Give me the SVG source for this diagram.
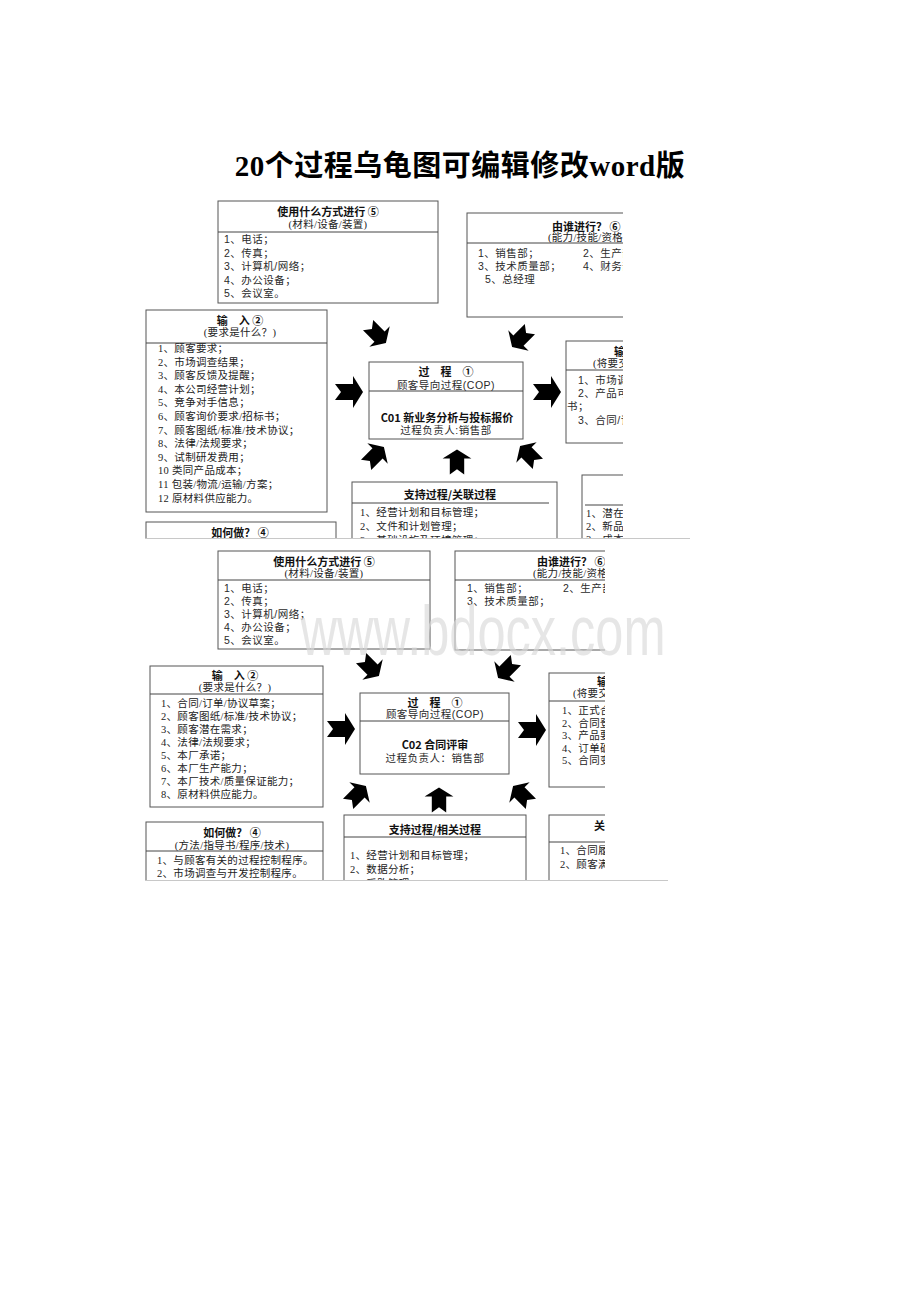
<svg xmlns="http://www.w3.org/2000/svg" width="920" height="1302" viewBox="0 0 920 1302">
<style>
.box{fill:#fff;stroke:#555;stroke-width:1}
.div{stroke:#444;stroke-width:1}
.h{font-family:"Noto Sans CJK SC","Liberation Sans",sans-serif;font-weight:bold;font-size:11px;fill:#111}
.s{font-family:"Liberation Serif","Noto Sans CJK SC",serif;font-size:10.5px;letter-spacing:0.3px;fill:#222}
.t{font-family:"Liberation Sans","Noto Sans CJK SC",sans-serif;font-size:10.5px;letter-spacing:0.5px;fill:#2a2a2a}
.c{text-anchor:middle}
.arr{fill:#000}
.edge{stroke:#c8c8c8;stroke-width:1}
</style>
<defs>
<path id="ar" d="M-14,-8 L4,-8 L4,-16 L14,0 L4,16 L4,8 L-14,8 L-8,0 Z"/>
<clipPath id="cp1"><rect x="140" y="195" width="483" height="343"/></clipPath>
<clipPath id="cp2"><rect x="140" y="545" width="465" height="335"/></clipPath>
</defs>
<rect width="920" height="1302" fill="#fff"/>
<text x="460" y="176" text-anchor="middle" font-family="Liberation Serif,Noto Sans CJK SC,serif" font-weight="bold" font-size="29" letter-spacing="0.5" fill="#000">20个过程乌龟图可编辑修改word版</text>

<g clip-path="url(#cp1)">
<g id="p1-means">
<rect class="box" x="218" y="201" width="220" height="102"/>
<line class="div" x1="218" y1="232" x2="438" y2="232"/>
<text class="h c" x="328" y="216">使用什么方式进行 ⑤</text>
<text class="s c" x="328" y="228">(材料/设备/装置)</text>
<text class="t" x="224" y="243">1、电话；</text>
<text class="t" x="224" y="256.5">2、传真；</text>
<text class="t" x="224" y="270">3、计算机/网络；</text>
<text class="t" x="224" y="283.5">4、办公设备；</text>
<text class="t" x="224" y="297">5、会议室。</text>
</g>
<g id="p1-who">
<rect class="box" x="467" y="213" width="200" height="104"/>
<line class="div" x1="467" y1="243" x2="667" y2="243"/>
<text class="h" x="552" y="231">由谁进行？ ⑥</text>
<text class="s" x="548" y="241">(能力/技能/资格要求)</text>
<text class="t" x="478" y="257">1、销售部；</text>
<text class="t" x="583" y="257">2、生产部；</text>
<text class="t" x="478" y="270">3、技术质量部；</text>
<text class="t" x="583" y="270">4、财务部；</text>
<text class="t" x="485" y="283">5、总经理</text>
</g>
<g id="p1-input">
<rect class="box" x="146" y="310" width="181" height="202"/>
<line class="div" x1="146" y1="343" x2="327" y2="343"/>
<text class="h c" x="240" y="325">输　入 ②</text>
<text class="s c" x="240" y="336">(要求是什么？)</text>
<text class="s" x="158" y="352">1、顾客要求；</text>
<text class="s" x="158" y="365.6">2、市场调查结果；</text>
<text class="s" x="158" y="379.2">3、顾客反馈及提醒；</text>
<text class="s" x="158" y="392.8">4、本公司经营计划；</text>
<text class="s" x="158" y="406.4">5、竞争对手信息；</text>
<text class="s" x="158" y="420">6、顾客询价要求/招标书；</text>
<text class="s" x="158" y="433.6">7、顾客图纸/标准/技术协议；</text>
<text class="s" x="158" y="447.2">8、法律/法规要求；</text>
<text class="s" x="158" y="460.8">9、试制研发费用；</text>
<text class="s" x="158" y="474.4">10 类同产品成本；</text>
<text class="s" x="158" y="488">11 包装/物流/运输/方案；</text>
<text class="s" x="158" y="501.6">12 原材料供应能力。</text>
</g>
<g id="p1-process">
<rect class="box" x="369" y="362" width="154" height="77"/>
<line class="div" x1="369" y1="391" x2="523" y2="391"/>
<text class="h c" x="446" y="376">过　程　①</text>
<text class="t c" x="446" y="389">顾客导向过程(COP)</text>
<text class="h c" x="447" y="422" font-size="11.5">C01  新业务分析与投标报价</text>
<text class="t c" x="446" y="434">过程负责人:销售部</text>
</g>
<g id="p1-output">
<rect class="box" x="566" y="341" width="120" height="102"/>
<line class="div" x1="566" y1="370" x2="686" y2="370"/>
<text class="h" x="614" y="356">输　出 ③</text>
<text class="s" x="593" y="367">(将要交付什么？)</text>
<text class="t" x="578" y="384">1、市场调查报告；</text>
<text class="t" x="578" y="397">2、产品可行性报告</text>
<text class="t" x="567" y="410">书；</text>
<text class="t" x="578" y="424">3、合同/订单。</text>
</g>
<g id="p1-support">
<rect class="box" x="352" y="482" width="205" height="80"/>
<line class="div" x1="352" y1="503" x2="549" y2="503"/>
<text class="h c" x="450" y="499">支持过程/关联过程</text>
<text class="s" x="360" y="516">1、经营计划和目标管理；</text>
<text class="s" x="360" y="530">2、文件和计划管理；</text>
<text class="s" x="360" y="544">3、基础设施及环境管理；</text>
</g>
<g id="p1-kpi">
<rect class="box" x="582" y="475" width="120" height="80"/>
<line class="div" x1="585" y1="505" x2="702" y2="505"/>
<text class="s" x="586" y="517">1、潜在客户数；</text>
<text class="s" x="586" y="530">2、新品开发数；</text>
<text class="s" x="586" y="543">3、成本</text>
</g>
<g id="p1-how">
<rect class="box" x="146" y="522" width="190" height="60"/>
<text class="h c" x="240" y="537">如何做？ ④</text>
</g>
<g id="p1-connectors">
<use href="#ar" class="arr" transform="translate(377,334) rotate(45) scale(0.9)"/>
<use href="#ar" class="arr" transform="translate(521,338) rotate(135) scale(0.9)"/>
<use href="#ar" class="arr" transform="translate(349,392)"/>
<use href="#ar" class="arr" transform="translate(547,392)"/>
<use href="#ar" class="arr" transform="translate(375,456) rotate(-45) scale(0.9)"/>
<use href="#ar" class="arr" transform="translate(457,462) rotate(-90) scale(0.9)"/>
<use href="#ar" class="arr" transform="translate(529,455) rotate(-135) scale(0.9)"/>
</g>
</g>
<line class="edge" x1="145" y1="538.5" x2="690" y2="538.5"/>

<g clip-path="url(#cp2)">
<g id="p2-means">
<rect class="box" x="218" y="551" width="212" height="98"/>
<line class="div" x1="218" y1="580" x2="430" y2="580"/>
<text class="h c" x="324" y="566">使用什么方式进行 ⑤</text>
<text class="s c" x="324" y="577">(材料/设备/装置)</text>
<text class="t" x="224" y="592">1、电话；</text>
<text class="t" x="224" y="605">2、传真；</text>
<text class="t" x="224" y="618">3、计算机/网络；</text>
<text class="t" x="224" y="631">4、办公设备；</text>
<text class="t" x="224" y="644">5、会议室。</text>
</g>
<g id="p2-who">
<rect class="box" x="455" y="551" width="200" height="99"/>
<line class="div" x1="455" y1="580" x2="655" y2="580"/>
<text class="h" x="537" y="566">由谁进行？ ⑥</text>
<text class="s" x="533" y="577">(能力/技能/资格要求)</text>
<text class="t" x="467" y="592">1、销售部；</text>
<text class="t" x="563" y="592">2、生产部；</text>
<text class="t" x="467" y="605">3、技术质量部；</text>
</g>
<g id="p2-input">
<rect class="box" x="150" y="666" width="173" height="141"/>
<line class="div" x1="150" y1="694" x2="323" y2="694"/>
<text class="h c" x="235" y="680">输　入 ②</text>
<text class="s c" x="235" y="691">(要求是什么？)</text>
<text class="s" x="161" y="707">1、合同/订单/协议草案；</text>
<text class="s" x="161" y="720">2、顾客图纸/标准/技术协议；</text>
<text class="s" x="161" y="733">3、顾客潜在需求；</text>
<text class="s" x="161" y="746">4、法律/法规要求；</text>
<text class="s" x="161" y="759">5、本厂承诺；</text>
<text class="s" x="161" y="772">6、本厂生产能力；</text>
<text class="s" x="161" y="785">7、本厂技术/质量保证能力；</text>
<text class="s" x="161" y="798">8、原材料供应能力。</text>
</g>
<g id="p2-process">
<rect class="box" x="360" y="693" width="149" height="81"/>
<line class="div" x1="360" y1="721" x2="509" y2="721"/>
<text class="h c" x="435" y="707">过　程　①</text>
<text class="t c" x="435" y="718">顾客导向过程(COP)</text>
<text class="h c" x="435" y="749" font-size="11.5">C02  合同评审</text>
<text class="t c" x="435" y="762">过程负责人：销售部</text>
</g>
<g id="p2-output">
<rect class="box" x="549" y="673" width="120" height="114"/>
<line class="div" x1="549" y1="701" x2="669" y2="701"/>
<text class="h" x="597" y="686">输　出 ③</text>
<text class="s" x="573" y="697">(将要交付什么？)</text>
<text class="s" x="562" y="714">1、正式合同；</text>
<text class="s" x="562" y="726.5">2、合同登记表；</text>
<text class="s" x="562" y="739">3、产品要求；</text>
<text class="s" x="562" y="751.5">4、订单确认；</text>
<text class="s" x="562" y="764">5、合同变更。</text>
</g>
<g id="p2-support">
<rect class="box" x="344" y="815" width="182" height="80"/>
<line class="div" x1="344" y1="837" x2="526" y2="837"/>
<text class="h c" x="435" y="834">支持过程/相关过程</text>
<text class="s" x="350" y="859">1、经营计划和目标管理；</text>
<text class="s" x="350" y="873">2、数据分析；</text>
<text class="s" x="350" y="887">3、采购管理。</text>
</g>
<g id="p2-kpi">
<rect class="box" x="549" y="815" width="120" height="80"/>
<line class="div" x1="549" y1="842" x2="669" y2="842"/>
<text class="h" x="594" y="830">关键绩效</text>
<text class="s" x="560" y="854">1、合同履约率；</text>
<text class="s" x="560" y="868">2、顾客满意度。</text>
</g>
<g id="p2-how">
<rect class="box" x="146" y="822" width="177" height="80"/>
<line class="div" x1="146" y1="851" x2="323" y2="851"/>
<text class="h c" x="232" y="837">如何做？ ④</text>
<text class="s c" x="232" y="849">(方法/指导书/程序/技术)</text>
<text class="s" x="157" y="864">1、与顾客有关的过程控制程序。</text>
<text class="s" x="157" y="877">2、市场调查与开发控制程序。</text>
</g>
<g id="p2-connectors">
<use href="#ar" class="arr" transform="translate(370,667) rotate(45) scale(0.9)"/>
<use href="#ar" class="arr" transform="translate(507,669) rotate(135) scale(0.9)"/>
<use href="#ar" class="arr" transform="translate(341,729)"/>
<use href="#ar" class="arr" transform="translate(532,730)"/>
<use href="#ar" class="arr" transform="translate(357,795) rotate(-45) scale(0.9)"/>
<use href="#ar" class="arr" transform="translate(439,800) rotate(-90) scale(0.9)"/>
<use href="#ar" class="arr" transform="translate(522,795) rotate(-135) scale(0.9)"/>
</g>
</g>
<line class="edge" x1="145" y1="880.5" x2="668" y2="880.5"/>
<text x="483" y="655" text-anchor="middle" font-family="Liberation Sans,sans-serif" font-size="70" fill="#d8d8d8" fill-opacity="0.65" textLength="365" lengthAdjust="spacingAndGlyphs">www.bdocx.com</text>
</svg>
